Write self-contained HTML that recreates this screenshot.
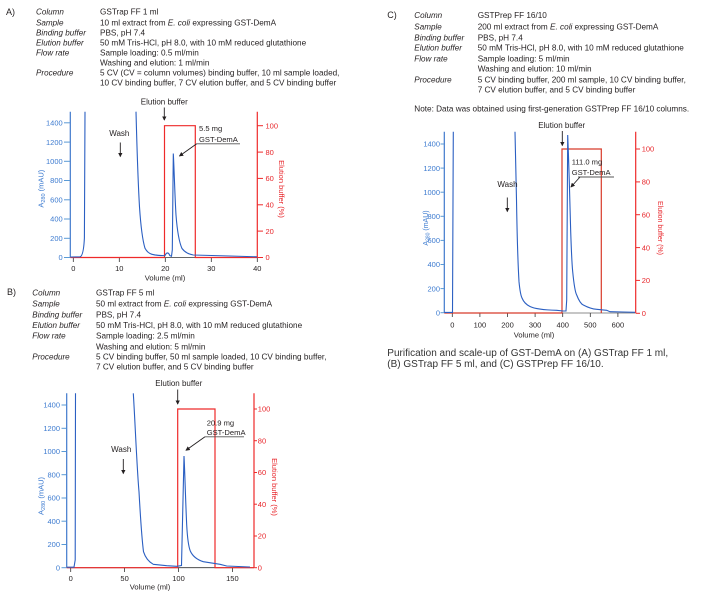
<!DOCTYPE html>
<html><head><meta charset="utf-8"><style>
html,body{margin:0;padding:0;background:#fff;}
svg{display:block;}
text{font-family:"Liberation Sans",sans-serif;}
.t{font-size:8.2px;fill:#231f20;}
.a{font-size:8px;fill:#231f20;}
.m{font-size:7.6px;fill:#231f20;}
.l{font-size:8.1px;fill:#231f20;font-style:italic;}
.tb{font-size:7.5px;fill:#3d7bd0;}
.tr{font-size:7.5px;fill:#e8262b;}
.tx{font-size:7.5px;fill:#231f20;text-anchor:middle;}
.bl{fill:none;stroke:#2b5fc2;stroke-width:1.1;}
.rd{fill:none;stroke:#ee2a2a;stroke-width:1.2;}
.ab{stroke:#3f78cc;stroke-width:1.2;}
.ar{stroke:#ee2a2a;stroke-width:1.2;}
.tkb{stroke:#5a9ad6;stroke-width:1;}
.tkr{stroke:#ee2a2a;stroke-width:1;}
.tkx{stroke:#333;stroke-width:0.8;}
.bk{stroke:#231f20;stroke-width:0.9;fill:none;}
</style></head><body>
<svg width="705" height="599" viewBox="0 0 705 599" xmlns="http://www.w3.org/2000/svg">
<defs>
<marker id="ah" viewBox="0 0 6 6" refX="5" refY="3" markerWidth="5" markerHeight="5" orient="auto"><path d="M0,0 L6,3 L0,6 z" fill="#231f20"/></marker>
</defs>

<!-- ===== Panel A text ===== -->
<text x="6" y="15" style="font-size:9px;fill:#231f20">A)</text>
<text class="l" x="36" y="14.7">Column</text>
<text class="l" x="36" y="25.3">Sample</text>
<text class="l" x="36" y="35.3">Binding buffer</text>
<text class="l" x="36" y="45.3">Elution buffer</text>
<text class="l" x="36" y="55.3">Flow rate</text>
<text class="l" x="36" y="75.3">Procedure</text>
<text class="t" x="100" y="14.7">GSTrap FF 1 ml</text>
<text class="t" x="100" y="25.3">10 ml extract from <tspan font-style="italic">E. coli</tspan> expressing GST-DemA</text>
<text class="t" x="100" y="35.3">PBS, pH 7.4</text>
<text class="t" x="100" y="45.3">50 mM Tris-HCl, pH 8.0, with 10 mM reduced glutathione</text>
<text class="t" x="100" y="55.3">Sample loading: 0.5 ml/min</text>
<text class="t" x="100" y="65.3">Washing and elution: 1 ml/min</text>
<text class="t" x="100" y="75.3">5 CV (CV = column volumes) binding buffer, 10 ml sample loaded,</text>
<text class="t" x="100" y="85.3">10 CV binding buffer, 7 CV elution buffer, and 5 CV binding buffer</text>

<!-- ===== Panel A chart ===== -->
<g>
<line class="tkx" x1="70.3" y1="257.5" x2="257.3" y2="257.5"/>
<g class="tkx">
<line x1="73.3" y1="258" x2="73.3" y2="262"/><line x1="119.3" y1="258" x2="119.3" y2="262"/><line x1="165.3" y1="258" x2="165.3" y2="262"/><line x1="211.3" y1="258" x2="211.3" y2="262"/><line x1="257.3" y1="258" x2="257.3" y2="262"/>
</g>
<text class="tx" x="73.3" y="271">0</text><text class="tx" x="119.3" y="271">10</text><text class="tx" x="165.3" y="271">20</text><text class="tx" x="211.3" y="271">30</text><text class="tx" x="257.3" y="271">40</text>
<text class="m" x="165" y="280.5" text-anchor="middle">Volume (ml)</text>
<line class="ab" x1="70.3" y1="111.7" x2="70.3" y2="257.5"/>
<g class="tkb">
<line x1="64" y1="257.5" x2="70" y2="257.5"/><line x1="64" y1="238.3" x2="70" y2="238.3"/><line x1="64" y1="219" x2="70" y2="219"/><line x1="64" y1="199.8" x2="70" y2="199.8"/><line x1="64" y1="180.5" x2="70" y2="180.5"/><line x1="64" y1="161.3" x2="70" y2="161.3"/><line x1="64" y1="142.1" x2="70" y2="142.1"/><line x1="64" y1="122.8" x2="70" y2="122.8"/>
</g>
<g class="tb" text-anchor="end">
<text x="62.7" y="260.2">0</text><text x="62.7" y="241">200</text><text x="62.7" y="221.7">400</text><text x="62.7" y="202.5">600</text><text x="62.7" y="183.2">800</text><text x="62.7" y="164">1000</text><text x="62.7" y="144.8">1200</text><text x="62.7" y="125.5">1400</text>
</g>
<text class="tb" transform="translate(43.7,188.7) rotate(-90)" text-anchor="middle">A<tspan font-size="5.5" dy="1.5">280</tspan><tspan dy="-1.5"> (mAU)</tspan></text>
<line class="ar" x1="257.3" y1="111.7" x2="257.3" y2="257.5"/>
<g class="tkr">
<line x1="257.5" y1="257.5" x2="263" y2="257.5"/><line x1="257.5" y1="231.1" x2="263" y2="231.1"/><line x1="257.5" y1="204.8" x2="263" y2="204.8"/><line x1="257.5" y1="178.4" x2="263" y2="178.4"/><line x1="257.5" y1="152.1" x2="263" y2="152.1"/><line x1="257.5" y1="125.7" x2="263" y2="125.7"/>
</g>
<g class="tr">
<text x="265.5" y="260.2">0</text><text x="265.5" y="233.8">20</text><text x="265.5" y="207.5">40</text><text x="265.5" y="181.1">60</text><text x="265.5" y="154.8">80</text><text x="265.5" y="128.4">100</text>
</g>
<text class="tr" transform="translate(279,189) rotate(90)" text-anchor="middle">Elution buffer (%)</text>
<path class="rd" d="M70.3,257.5 L164.5,257.5 L164.5,125.7 L195.3,125.7 L195.3,257.5 L257.3,257.5"/>
<path class="bl" d="M70.5,257 L80,256.8 C82.5,256.3 83.8,250 84.4,238 L85,111.7"/>
<path class="bl" d="M136,111.7 C137,150 138.5,190 139.5,207 C140.5,222 142.5,240 145,248.3 C147,252 149.5,253.7 152,254.3 C156,255.3 160,255.7 165,255.6 C166.5,252 168.5,252 169.8,255.6 L171.5,256.2 L172.3,250 L173.3,153.5 C174,165 175,200 176,215 C177.3,232 179.5,243 182,248.5 C185,252.5 189,254.3 193.3,255 L230,256 L257,256.8"/>
<text class="a" x="164.3" y="104.5" text-anchor="middle">Elution buffer</text>
<line class="bk" x1="164.3" y1="107.5" x2="164.3" y2="120" marker-end="url(#ah)"/>
<text class="a" x="119.3" y="136.2" text-anchor="middle">Wash</text>
<line class="bk" x1="120.3" y1="142.5" x2="120.3" y2="156.5" marker-end="url(#ah)"/>
<text class="m" x="199" y="131.2">5.5 mg</text>
<text class="m" x="199" y="142">GST-DemA</text>
<line x1="196.7" y1="143.8" x2="240" y2="143.8" stroke="#555" stroke-width="0.9"/>
<line class="bk" x1="196.7" y1="143.8" x2="179.5" y2="156" marker-end="url(#ah)"/>
</g>

<!-- ===== Panel B text ===== -->
<text x="7" y="295" style="font-size:9px;fill:#231f20">B)</text>
<text class="l" x="32.3" y="295.3">Column</text>
<text class="l" x="32.3" y="306.3">Sample</text>
<text class="l" x="32.3" y="317.3">Binding buffer</text>
<text class="l" x="32.3" y="328">Elution buffer</text>
<text class="l" x="32.3" y="338.7">Flow rate</text>
<text class="l" x="32.3" y="359.7">Procedure</text>
<text class="t" x="96" y="295.3">GSTrap FF 5 ml</text>
<text class="t" x="96" y="306.3">50 ml extract from <tspan font-style="italic">E. coli</tspan> expressing GST-DemA</text>
<text class="t" x="96" y="317.3">PBS, pH 7.4</text>
<text class="t" x="96" y="328">50 mM Tris-HCl, pH 8.0, with 10 mM reduced glutathione</text>
<text class="t" x="96" y="338.7">Sample loading: 2.5 ml/min</text>
<text class="t" x="96" y="349.3">Washing and elution: 5 ml/min</text>
<text class="t" x="96" y="359.7">5 CV binding buffer, 50 ml sample loaded, 10 CV binding buffer,</text>
<text class="t" x="96" y="369.7">7 CV elution buffer, and 5 CV binding buffer</text>

<!-- ===== Panel B chart ===== -->
<g>
<line class="tkx" x1="66.7" y1="567.7" x2="254" y2="567.7"/>
<g class="tkx">
<line x1="70.7" y1="568" x2="70.7" y2="572"/><line x1="124.6" y1="568" x2="124.6" y2="572"/><line x1="178.5" y1="568" x2="178.5" y2="572"/><line x1="232.4" y1="568" x2="232.4" y2="572"/>
</g>
<text class="tx" x="70.7" y="581">0</text><text class="tx" x="124.6" y="581">50</text><text class="tx" x="178.5" y="581">100</text><text class="tx" x="232.4" y="581">150</text>
<text class="m" x="150" y="589.5" text-anchor="middle">Volume (ml)</text>
<line class="ab" x1="66.7" y1="393.3" x2="66.7" y2="567.7"/>
<g class="tkb">
<line x1="61.5" y1="567.7" x2="66.5" y2="567.7"/><line x1="61.5" y1="544.5" x2="66.5" y2="544.5"/><line x1="61.5" y1="521.2" x2="66.5" y2="521.2"/><line x1="61.5" y1="498" x2="66.5" y2="498"/><line x1="61.5" y1="474.7" x2="66.5" y2="474.7"/><line x1="61.5" y1="451.5" x2="66.5" y2="451.5"/><line x1="61.5" y1="428.3" x2="66.5" y2="428.3"/><line x1="61.5" y1="405" x2="66.5" y2="405"/>
</g>
<g class="tb" text-anchor="end">
<text x="60" y="570.4">0</text><text x="60" y="547.2">200</text><text x="60" y="523.9">400</text><text x="60" y="500.7">600</text><text x="60" y="477.4">800</text><text x="60" y="454.2">1000</text><text x="60" y="431">1200</text><text x="60" y="407.7">1400</text>
</g>
<text class="tb" transform="translate(43.7,496) rotate(-90)" text-anchor="middle">A<tspan font-size="5.5" dy="1.5">280</tspan><tspan dy="-1.5"> (mAU)</tspan></text>
<line class="ar" x1="254" y1="393.3" x2="254" y2="567.7"/>
<g class="tkr">
<line x1="254.2" y1="567.7" x2="257" y2="567.7"/><line x1="254.2" y1="536" x2="257" y2="536"/><line x1="254.2" y1="504.2" x2="257" y2="504.2"/><line x1="254.2" y1="472.5" x2="257" y2="472.5"/><line x1="254.2" y1="440.7" x2="257" y2="440.7"/><line x1="254.2" y1="409" x2="257" y2="409"/>
</g>
<g class="tr">
<text x="257.8" y="570.4">0</text><text x="257.8" y="538.7">20</text><text x="257.8" y="506.9">40</text><text x="257.8" y="475.2">60</text><text x="257.8" y="443.4">80</text><text x="257.8" y="411.7">100</text>
</g>
<text class="tr" transform="translate(272,487) rotate(90)" text-anchor="middle">Elution buffer (%)</text>
<path class="rd" d="M66.7,567.7 L177.7,567.7 L177.7,409 L215,409 L215,567.7 L254,567.7"/>
<path class="bl" d="M67,567.2 L74,567.2 L75.2,560 L75.5,393.3"/>
<path class="bl" d="M133.3,393.3 C135,420 137,470 139,491.7 C140.3,515 142,540 143.5,551.7 C145.5,558 149,562 153.3,564.3 L166.7,565.7 L176.7,566.3 L181.5,565.5 L184,456 C184.8,470 185.5,500 186.7,525 C187.5,540 188.7,547 190.3,551 C192.5,556 196.5,559.5 203.3,561.7 L220,564.3 L226.7,566 L250,567"/>
<text class="a" x="178.8" y="386.2" text-anchor="middle">Elution buffer</text>
<line class="bk" x1="177.7" y1="389.5" x2="177.7" y2="404" marker-end="url(#ah)"/>
<text class="a" x="121.2" y="451.9" text-anchor="middle">Wash</text>
<line class="bk" x1="123.3" y1="459" x2="123.3" y2="473.5" marker-end="url(#ah)"/>
<text class="m" x="206.7" y="425.6">20.9 mg</text>
<text class="m" x="206.7" y="435">GST-DemA</text>
<line x1="205" y1="436.8" x2="244" y2="436.8" stroke="#555" stroke-width="0.9"/>
<line class="bk" x1="205" y1="436.8" x2="186" y2="450.3" marker-end="url(#ah)"/>
</g>

<!-- ===== Panel C text ===== -->
<text x="387.3" y="18.2" style="font-size:9px;fill:#231f20">C)</text>
<text class="l" x="414.3" y="18">Column</text>
<text class="l" x="414.3" y="29.7">Sample</text>
<text class="l" x="414.3" y="40.3">Binding buffer</text>
<text class="l" x="414.3" y="50.3">Elution buffer</text>
<text class="l" x="414.3" y="61.3">Flow rate</text>
<text class="l" x="414.3" y="82.3">Procedure</text>
<text class="t" x="477.7" y="18">GSTPrep FF 16/10</text>
<text class="t" x="477.7" y="29.7">200 ml extract from <tspan font-style="italic">E. coli</tspan> expressing GST-DemA</text>
<text class="t" x="477.7" y="40.3">PBS, pH 7.4</text>
<text class="t" x="477.7" y="50.3">50 mM Tris-HCl, pH 8.0, with 10 mM reduced glutathione</text>
<text class="t" x="477.7" y="61.3">Sample loading: 5 ml/min</text>
<text class="t" x="477.7" y="71.3">Washing and elution: 10 ml/min</text>
<text class="t" x="477.7" y="82.3">5 CV binding buffer, 200 ml sample, 10 CV binding buffer,</text>
<text class="t" x="477.7" y="92.3">7 CV elution buffer, and 5 CV binding buffer</text>
<text class="t" x="414.3" y="111.3">Note: Data was obtained using first-generation GSTPrep FF 16/10 columns.</text>

<!-- ===== Panel C chart ===== -->
<g>
<line class="tkx" x1="444.3" y1="313" x2="635.7" y2="313" style="stroke:#666"/>
<g class="tkx">
<line x1="452.3" y1="313" x2="452.3" y2="317"/><line x1="479.9" y1="313" x2="479.9" y2="317"/><line x1="507.5" y1="313" x2="507.5" y2="317"/><line x1="535.1" y1="313" x2="535.1" y2="317"/><line x1="562.7" y1="313" x2="562.7" y2="317"/><line x1="590.3" y1="313" x2="590.3" y2="317"/><line x1="617.9" y1="313" x2="617.9" y2="317"/>
</g>
<text class="tx" x="452.3" y="327.7">0</text><text class="tx" x="479.9" y="327.7">100</text><text class="tx" x="507.5" y="327.7">200</text><text class="tx" x="535.1" y="327.7">300</text><text class="tx" x="562.7" y="327.7">400</text><text class="tx" x="590.3" y="327.7">500</text><text class="tx" x="617.9" y="327.7">600</text>
<text class="m" x="534" y="337.7" text-anchor="middle">Volume (ml)</text>
<line class="ab" x1="444.3" y1="131.7" x2="444.3" y2="313"/>
<g class="tkb">
<line x1="440.5" y1="312.7" x2="444" y2="312.7"/><line x1="440.5" y1="288.6" x2="444" y2="288.6"/><line x1="440.5" y1="264.5" x2="444" y2="264.5"/><line x1="440.5" y1="240.4" x2="444" y2="240.4"/><line x1="440.5" y1="216.3" x2="444" y2="216.3"/><line x1="440.5" y1="192.2" x2="444" y2="192.2"/><line x1="440.5" y1="168.1" x2="444" y2="168.1"/><line x1="440.5" y1="144" x2="444" y2="144"/>
</g>
<g class="tb" text-anchor="end">
<text x="440" y="315.4">0</text><text x="440" y="291.3">200</text><text x="440" y="267.2">400</text><text x="440" y="243.1">600</text><text x="440" y="219">800</text><text x="440" y="194.9">1000</text><text x="440" y="170.8">1200</text><text x="440" y="146.7">1400</text>
</g>
<text class="tb" style="font-size:7px" transform="translate(428,228) rotate(-90)" text-anchor="middle">A<tspan font-size="5" dy="1.5">280</tspan><tspan dy="-1.5"> (mAU)</tspan></text>
<line class="ar" x1="635.7" y1="131.7" x2="635.7" y2="313.3"/>
<g class="tkr">
<line x1="636" y1="313.3" x2="640" y2="313.3"/><line x1="636" y1="280.4" x2="640" y2="280.4"/><line x1="636" y1="247.6" x2="640" y2="247.6"/><line x1="636" y1="214.7" x2="640" y2="214.7"/><line x1="636" y1="181.9" x2="640" y2="181.9"/><line x1="636" y1="149" x2="640" y2="149"/>
</g>
<g class="tr">
<text x="641.7" y="316">0</text><text x="641.7" y="283.1">20</text><text x="641.7" y="250.3">40</text><text x="641.7" y="217.4">60</text><text x="641.7" y="184.6">80</text><text x="641.7" y="151.7">100</text>
</g>
<text class="tr" style="font-size:7px" transform="translate(658,228) rotate(90)" text-anchor="middle">Elution buffer (%)</text>
<path class="rd" d="M444.3,313 L562,313 L562,149 L601.3,149 L601.3,313" style="stroke:#d83a2a"/>
<path class="bl" d="M444.5,312.4 L452.5,312.4 L453.3,131.7"/>
<path class="bl" d="M515,131.7 C515.5,160 516,181.7 516.5,200 C517,230 518,265 519,281.7 C520,292 521,296 522,298 C524,303 527,305 530,306.5 C535,309 545,310 556.7,310.3 L563.3,311 L566,311 L566.7,300 L567.7,135 C568.3,150 569,170 569.3,181.7 C570,210 570.5,225 570.7,231.7 C571.5,255 572,265 572.7,271.7 C574,285 575,292 576.7,295 C579,301 581,304 583.3,305 C588,307.5 592,309 596.7,309.3 L606.7,310.3 L610,311.7 L623.3,312 L635,312.3"/>
<text class="a" x="561.7" y="127.8" text-anchor="middle">Elution buffer</text>
<line class="bk" x1="562.3" y1="131" x2="562.3" y2="145.5" marker-end="url(#ah)"/>
<text class="a" x="507.5" y="187.1" text-anchor="middle">Wash</text>
<line class="bk" x1="507.3" y1="197.5" x2="507.3" y2="211.5" marker-end="url(#ah)"/>
<text class="m" x="571.7" y="164.5">111.0 mg</text>
<text class="m" x="571.7" y="175">GST-DemA</text>
<line x1="578" y1="177" x2="614" y2="177" stroke="#555" stroke-width="0.9"/>
<line class="bk" x1="580" y1="177" x2="571" y2="187" marker-end="url(#ah)"/>
</g>

<!-- ===== Caption ===== -->
<text x="387.3" y="356" style="font-size:10px;fill:#333">Purification and scale-up of GST-DemA on (A) GSTrap FF 1 ml,</text>
<text x="387.3" y="366.8" style="font-size:10px;fill:#333">(B) GSTrap FF 5 ml, and (C) GSTPrep FF 16/10.</text>
</svg>
</body></html>
